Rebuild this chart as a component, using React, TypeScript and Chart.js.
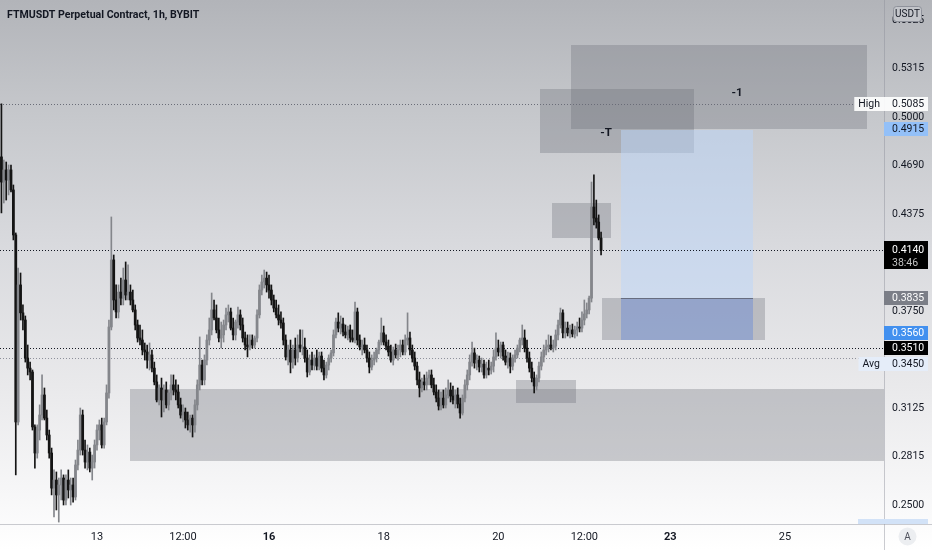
import React, { useEffect, useRef } from "react";
import { Chart, registerables } from "chart.js";

Chart.register(...registerables);

// ---------------- data ----------------
const chartTitle = "FTMUSDT Perpetual Contract, 1h, BYBIT";
// hourly candles; hour values are counted from day 11, 00:00
const firstCandleHour = 8;

const opens = [
  0.4743, 0.4581, 0.4659, 0.4594, 0.4659, 0.4530, 0.4240, 0.3035, 0.3918, 0.3738,
  0.3692, 0.3447, 0.3382, 0.3357, 0.3003, 0.2835, 0.2983, 0.3080, 0.3209, 0.3060,
  0.2951, 0.2835, 0.2609, 0.2661, 0.2565, 0.2629, 0.2674, 0.2532, 0.2661, 0.2597,
  0.2629, 0.2552, 0.2758, 0.2854, 0.3080, 0.2854, 0.2777, 0.2841, 0.2738, 0.2777,
  0.2887, 0.2983, 0.3016, 0.2887, 0.3035, 0.3222, 0.3647, 0.4079, 0.3821, 0.3744,
  0.3872, 0.3833, 0.3950, 0.3853, 0.3872, 0.3821, 0.3757, 0.3660, 0.3576, 0.3563,
  0.3499, 0.3486, 0.3434, 0.3467, 0.3382, 0.3293, 0.3177, 0.3254, 0.3177, 0.3241,
  0.3145, 0.3222, 0.3274, 0.3241, 0.3228, 0.3145, 0.3080, 0.3099, 0.3048, 0.3016,
  0.3060, 0.3016, 0.3145, 0.3274, 0.3402, 0.3306, 0.3434, 0.3563, 0.3628, 0.3757,
  0.3705, 0.3628, 0.3576, 0.3596, 0.3660, 0.3725, 0.3744, 0.3640, 0.3596, 0.3679,
  0.3725, 0.3660, 0.3576, 0.3531, 0.3518, 0.3563, 0.3531, 0.3576, 0.3725, 0.3885,
  0.3937, 0.3962, 0.3918, 0.3885, 0.3821, 0.3769, 0.3725, 0.3692, 0.3673, 0.3563,
  0.3454, 0.3499, 0.3421, 0.3499, 0.3447, 0.3531, 0.3511, 0.3518, 0.3447, 0.3357,
  0.3434, 0.3402, 0.3447, 0.3395, 0.3460, 0.3382, 0.3338, 0.3402, 0.3447, 0.3480,
  0.3596, 0.3679, 0.3640, 0.3666, 0.3615, 0.3596, 0.3628, 0.3576, 0.3563, 0.3744,
  0.3563, 0.3518, 0.3531, 0.3499, 0.3447, 0.3389, 0.3434, 0.3447, 0.3499, 0.3550,
  0.3609, 0.3550, 0.3524, 0.3486, 0.3434, 0.3499, 0.3467, 0.3499, 0.3531, 0.3486,
  0.3563, 0.3576, 0.3499, 0.3447, 0.3395, 0.3306, 0.3254, 0.3293, 0.3274, 0.3318,
  0.3338, 0.3274, 0.3228, 0.3189, 0.3138, 0.3189, 0.3145, 0.3209, 0.3241, 0.3202,
  0.3177, 0.3209, 0.3151, 0.3093, 0.3189, 0.3274, 0.3338, 0.3421, 0.3480, 0.3415,
  0.3434, 0.3389, 0.3408, 0.3338, 0.3382, 0.3370, 0.3395, 0.3454, 0.3511, 0.3486,
  0.3531, 0.3460, 0.3421, 0.3447, 0.3395, 0.3447, 0.3467, 0.3511, 0.3563, 0.3576,
  0.3511, 0.3447, 0.3382, 0.3318, 0.3267, 0.3318, 0.3395, 0.3454, 0.3499, 0.3518,
  0.3531, 0.3511, 0.3524, 0.3596, 0.3660, 0.3738, 0.3609, 0.3640, 0.3609, 0.3628,
  0.3602, 0.3628, 0.3647, 0.3640, 0.3692, 0.3731, 0.3757, 0.3833, 0.4420, 0.4349,
  0.4323, 0.4220,
];

const highs = [
  0.5085, 0.4723, 0.4710, 0.4691, 0.4691, 0.4562, 0.4253, 0.4027, 0.3995, 0.3789,
  0.3718, 0.3531, 0.3421, 0.3370, 0.3016, 0.3016, 0.3145, 0.3338, 0.3254, 0.3112,
  0.2983, 0.2867, 0.2726, 0.2713, 0.2674, 0.2726, 0.2694, 0.2694, 0.2726, 0.2674,
  0.2674, 0.2790, 0.2919, 0.3125, 0.3112, 0.2919, 0.2887, 0.2867, 0.2822, 0.2919,
  0.3016, 0.3048, 0.3060, 0.3060, 0.3274, 0.3692, 0.4356, 0.4111, 0.3918, 0.3918,
  0.3962, 0.4027, 0.4066, 0.4047, 0.3918, 0.3885, 0.3789, 0.3692, 0.3660, 0.3628,
  0.3544, 0.3531, 0.3544, 0.3499, 0.3421, 0.3338, 0.3274, 0.3318, 0.3274, 0.3293,
  0.3241, 0.3338, 0.3338, 0.3306, 0.3274, 0.3189, 0.3145, 0.3125, 0.3099, 0.3080,
  0.3080, 0.3177, 0.3306, 0.3583, 0.3434, 0.3467, 0.3596, 0.3705, 0.3866, 0.3821,
  0.3789, 0.3705, 0.3679, 0.3692, 0.3769, 0.3789, 0.3769, 0.3705, 0.3692, 0.3776,
  0.3757, 0.3705, 0.3615, 0.3596, 0.3596, 0.3596, 0.3589, 0.3757, 0.3918, 0.3982,
  0.4014, 0.4001, 0.3982, 0.3918, 0.3853, 0.3821, 0.3789, 0.3744, 0.3705, 0.3596,
  0.3531, 0.3563, 0.3531, 0.3576, 0.3596, 0.3628, 0.3628, 0.3576, 0.3499, 0.3467,
  0.3486, 0.3467, 0.3499, 0.3486, 0.3486, 0.3434, 0.3421, 0.3467, 0.3499, 0.3628,
  0.3705, 0.3738, 0.3718, 0.3705, 0.3660, 0.3653, 0.3660, 0.3628, 0.3808, 0.3769,
  0.3596, 0.3563, 0.3576, 0.3531, 0.3486, 0.3467, 0.3486, 0.3511, 0.3563, 0.3705,
  0.3653, 0.3596, 0.3563, 0.3531, 0.3518, 0.3537, 0.3531, 0.3563, 0.3563, 0.3596,
  0.3738, 0.3615, 0.3531, 0.3486, 0.3421, 0.3357, 0.3318, 0.3338, 0.3357, 0.3370,
  0.3370, 0.3318, 0.3274, 0.3241, 0.3228, 0.3241, 0.3254, 0.3306, 0.3287, 0.3267,
  0.3241, 0.3254, 0.3189, 0.3209, 0.3306, 0.3370, 0.3467, 0.3550, 0.3511, 0.3467,
  0.3460, 0.3447, 0.3434, 0.3421, 0.3434, 0.3421, 0.3499, 0.3609, 0.3563, 0.3550,
  0.3550, 0.3499, 0.3486, 0.3480, 0.3467, 0.3499, 0.3531, 0.3576, 0.3660, 0.3628,
  0.3563, 0.3486, 0.3421, 0.3357, 0.3338, 0.3421, 0.3486, 0.3531, 0.3563, 0.3596,
  0.3589, 0.3563, 0.3628, 0.3692, 0.3769, 0.3757, 0.3679, 0.3679, 0.3660, 0.3666,
  0.3653, 0.3679, 0.3705, 0.3744, 0.3821, 0.3802, 0.3846, 0.4581, 0.4627, 0.4465,
  0.4369, 0.4259,
];

const lows = [
  0.4382, 0.4446, 0.4465, 0.4498, 0.4517, 0.4208, 0.2694, 0.3016, 0.3692, 0.3628,
  0.3421, 0.3338, 0.3306, 0.2983, 0.2738, 0.2802, 0.2919, 0.3048, 0.3048, 0.2919,
  0.2802, 0.2565, 0.2423, 0.2468, 0.2390, 0.2532, 0.2500, 0.2500, 0.2545, 0.2500,
  0.2519, 0.2532, 0.2726, 0.2822, 0.2822, 0.2738, 0.2726, 0.2713, 0.2661, 0.2738,
  0.2854, 0.2919, 0.2867, 0.2867, 0.3016, 0.3189, 0.3628, 0.3757, 0.3705, 0.3705,
  0.3789, 0.3789, 0.3821, 0.3821, 0.3789, 0.3744, 0.3628, 0.3550, 0.3531, 0.3467,
  0.3434, 0.3382, 0.3370, 0.3357, 0.3274, 0.3164, 0.3145, 0.3067, 0.3099, 0.3125,
  0.3112, 0.3177, 0.3209, 0.3177, 0.3125, 0.3060, 0.3035, 0.2996, 0.2983, 0.2970,
  0.2938, 0.2970, 0.3112, 0.3241, 0.3274, 0.3274, 0.3402, 0.3531, 0.3596, 0.3692,
  0.3609, 0.3550, 0.3511, 0.3550, 0.3628, 0.3679, 0.3628, 0.3563, 0.3563, 0.3640,
  0.3628, 0.3550, 0.3499, 0.3454, 0.3499, 0.3511, 0.3511, 0.3550, 0.3705, 0.3853,
  0.3898, 0.3872, 0.3833, 0.3789, 0.3744, 0.3705, 0.3660, 0.3640, 0.3531, 0.3434,
  0.3402, 0.3351, 0.3382, 0.3402, 0.3421, 0.3486, 0.3467, 0.3421, 0.3325, 0.3338,
  0.3370, 0.3370, 0.3370, 0.3370, 0.3357, 0.3306, 0.3318, 0.3370, 0.3421, 0.3460,
  0.3576, 0.3615, 0.3602, 0.3589, 0.3576, 0.3563, 0.3550, 0.3550, 0.3544, 0.3531,
  0.3499, 0.3467, 0.3480, 0.3421, 0.3351, 0.3370, 0.3402, 0.3421, 0.3473, 0.3531,
  0.3531, 0.3499, 0.3460, 0.3421, 0.3402, 0.3447, 0.3434, 0.3454, 0.3467, 0.3467,
  0.3531, 0.3467, 0.3421, 0.3370, 0.3274, 0.3196, 0.3228, 0.3241, 0.3241, 0.3274,
  0.3254, 0.3209, 0.3164, 0.3112, 0.3112, 0.3125, 0.3125, 0.3189, 0.3164, 0.3151,
  0.3125, 0.3125, 0.3060, 0.3080, 0.3164, 0.3241, 0.3306, 0.3395, 0.3382, 0.3370,
  0.3357, 0.3357, 0.3318, 0.3318, 0.3338, 0.3344, 0.3357, 0.3434, 0.3460, 0.3447,
  0.3434, 0.3402, 0.3382, 0.3351, 0.3370, 0.3421, 0.3447, 0.3486, 0.3531, 0.3486,
  0.3421, 0.3357, 0.3293, 0.3222, 0.3241, 0.3293, 0.3370, 0.3421, 0.3467, 0.3486,
  0.3499, 0.3486, 0.3499, 0.3563, 0.3640, 0.3576, 0.3576, 0.3589, 0.3576, 0.3583,
  0.3576, 0.3589, 0.3615, 0.3615, 0.3660, 0.3705, 0.3731, 0.3808, 0.4304, 0.4284,
  0.4208, 0.4111,
];

const closes = [
  0.4581, 0.4659, 0.4594, 0.4659, 0.4530, 0.4240, 0.3035, 0.3918, 0.3738, 0.3692,
  0.3447, 0.3382, 0.3357, 0.3003, 0.2835, 0.2983, 0.3080, 0.3209, 0.3060, 0.2951,
  0.2835, 0.2609, 0.2661, 0.2565, 0.2629, 0.2674, 0.2532, 0.2661, 0.2597, 0.2629,
  0.2552, 0.2758, 0.2854, 0.3080, 0.2854, 0.2777, 0.2841, 0.2738, 0.2777, 0.2887,
  0.2983, 0.3016, 0.2887, 0.3035, 0.3222, 0.3647, 0.4079, 0.3821, 0.3744, 0.3872,
  0.3833, 0.3950, 0.3853, 0.3872, 0.3821, 0.3757, 0.3660, 0.3576, 0.3563, 0.3499,
  0.3486, 0.3434, 0.3467, 0.3382, 0.3293, 0.3177, 0.3254, 0.3177, 0.3241, 0.3145,
  0.3222, 0.3274, 0.3241, 0.3228, 0.3145, 0.3080, 0.3099, 0.3048, 0.3016, 0.3060,
  0.3016, 0.3145, 0.3274, 0.3402, 0.3306, 0.3434, 0.3563, 0.3628, 0.3757, 0.3705,
  0.3628, 0.3576, 0.3596, 0.3660, 0.3725, 0.3744, 0.3640, 0.3596, 0.3679, 0.3725,
  0.3660, 0.3576, 0.3531, 0.3518, 0.3563, 0.3531, 0.3576, 0.3725, 0.3885, 0.3937,
  0.3962, 0.3918, 0.3885, 0.3821, 0.3769, 0.3725, 0.3692, 0.3673, 0.3563, 0.3454,
  0.3499, 0.3421, 0.3499, 0.3447, 0.3531, 0.3511, 0.3518, 0.3447, 0.3357, 0.3434,
  0.3402, 0.3447, 0.3395, 0.3460, 0.3382, 0.3338, 0.3402, 0.3447, 0.3480, 0.3596,
  0.3679, 0.3640, 0.3666, 0.3615, 0.3596, 0.3628, 0.3576, 0.3563, 0.3744, 0.3563,
  0.3518, 0.3531, 0.3499, 0.3447, 0.3389, 0.3434, 0.3447, 0.3499, 0.3550, 0.3609,
  0.3550, 0.3524, 0.3486, 0.3434, 0.3499, 0.3467, 0.3499, 0.3531, 0.3486, 0.3563,
  0.3576, 0.3499, 0.3447, 0.3395, 0.3306, 0.3254, 0.3293, 0.3274, 0.3318, 0.3338,
  0.3274, 0.3228, 0.3189, 0.3138, 0.3189, 0.3145, 0.3209, 0.3241, 0.3202, 0.3177,
  0.3209, 0.3151, 0.3093, 0.3189, 0.3274, 0.3338, 0.3421, 0.3480, 0.3415, 0.3434,
  0.3389, 0.3408, 0.3338, 0.3382, 0.3370, 0.3395, 0.3454, 0.3511, 0.3486, 0.3531,
  0.3460, 0.3421, 0.3447, 0.3395, 0.3447, 0.3467, 0.3511, 0.3563, 0.3576, 0.3511,
  0.3447, 0.3382, 0.3318, 0.3267, 0.3318, 0.3395, 0.3454, 0.3499, 0.3518, 0.3531,
  0.3511, 0.3524, 0.3596, 0.3660, 0.3738, 0.3609, 0.3640, 0.3609, 0.3628, 0.3602,
  0.3628, 0.3647, 0.3640, 0.3692, 0.3731, 0.3757, 0.3833, 0.4420, 0.4349, 0.4323,
  0.4220, 0.4140,
];

// axis ticks
const xTickHours = [48, 84, 120, 168, 216, 252, 288, 336];
const xTickLabels = ["13", "12:00", "16", "18", "20", "12:00", "23", "25"];
const xBoldLabels = ["16", "23"];
const yTickValues = [0.25, 0.2815, 0.3125, 0.375, 0.4375, 0.469, 0.5, 0.5315, 0.5625];

// drawn zones (hours / prices)
const zoneStartHours = [246.4, 233.4, 238.5, 259.4, 267.3, 267.3, 223.4, 61.8];
const zoneEndHours = [370.5, 297.9, 263.2, 327.6, 322.6, 322.6, 248.5, 378];
const zoneTopPrices = [0.5464, 0.5181, 0.4446, 0.3835, 0.4915, 0.3835, 0.3306, 0.3248];
const zoneBottomPrices = [0.4920, 0.4768, 0.4221, 0.3560, 0.3835, 0.3560, 0.3158, 0.2784];
const zoneKinds = ["grey", "grey", "grey", "grey", "target", "stop", "grey", "grey"];
const positionEntryPrice = 0.3835;

const markerTexts = ["-1", "-T"];
const markerHours = [315.9, 261.1];
const markerPrices = [0.5155, 0.4897];

// horizontal levels
const levelPrices = [0.5085, 0.414, 0.351, 0.345];
const levelNames = ["High", "Last", "Mark", "Avg"];

// price tags on the right axis
const tagPrices = [0.5085, 0.4915, 0.414, 0.3835, 0.356, 0.351, 0.345];
const tagTexts = ["0.5085", "0.4915", "0.4140", "0.3835", "0.3560", "0.3510", "0.3450"];
const tagSideLabels = ["High", "", "", "", "", "", "Avg"];
const countdownText = "38:46";
const currencyLabel = "USDT";
const scaleModeLabel = "A";

// visible range
const xMinHour = 7.4;
const xMaxHour = 377.43;
const yMinPrice = 0.23776;
const yMaxPrice = 0.57539;

// ---------------- styles ----------------
const FONT = "Roboto, 'Liberation Sans', sans-serif";
const UP = "#84868b";
const DOWN = "#141414";
const zoneFill: Record<string, string> = {
  grey: "rgba(105,108,118,0.32)",
  target: "rgba(188,214,250,0.5)",
  stop: "rgba(105,138,215,0.45)",
};
const levelStyles = [
  { color: "#6a6d78", toLabel: true },
  { color: "#131722", toLabel: false },
  { color: "#131722", toLabel: false },
  { color: "#8d909a", toLabel: true },
];
const tagStyles = [
  { bg: "rgba(255,255,255,0.9)", fg: "#131722", shift: 0, sideBg: "rgba(255,255,255,0.9)" },
  { bg: "#93c0f8", fg: "#131722", shift: -1, sideBg: "" },
  { bg: "#000000", fg: "#ffffff", shift: 0, sideBg: "" },
  { bg: "#7b7e87", fg: "#ffffff", shift: 0, sideBg: "" },
  { bg: "#4290ef", fg: "#ffffff", shift: -7, sideBg: "" },
  { bg: "#000000", fg: "#ffffff", shift: 0, sideBg: "" },
  { bg: "#e5edf9", fg: "#131722", shift: 6, sideBg: "#e5edf9" },
];

const bgPlugin = {
  id: "tvBackground",
  beforeDraw(chart: any) {
    const { ctx, width, height } = chart;
    ctx.save();
    const g = ctx.createLinearGradient(0, 0, 0, height);
    g.addColorStop(0, "#b2b4b9");
    g.addColorStop(0.2, "#c5c7cb");
    g.addColorStop(0.45, "#d9dade");
    g.addColorStop(0.7, "#e9e9eb");
    g.addColorStop(0.9, "#f7f7f8");
    g.addColorStop(1, "#ffffff");
    ctx.fillStyle = g;
    ctx.fillRect(0, 0, width, height);
    ctx.restore();
  },
};

const drawingsPlugin = {
  id: "tvDrawings",
  beforeDatasetsDraw(chart: any) {
    const { ctx, chartArea: a } = chart;
    const xs = chart.scales.x;
    const ys = chart.scales.y;
    ctx.save();
    ctx.beginPath();
    ctx.rect(a.left, a.top, a.right - a.left, a.bottom - a.top);
    ctx.clip();

    zoneStartHours.forEach((h0, i) => {
      const x0 = Math.round(xs.getPixelForValue(h0));
      const x1 = Math.round(xs.getPixelForValue(zoneEndHours[i]));
      const y0 = Math.round(ys.getPixelForValue(zoneTopPrices[i]));
      const y1 = Math.round(ys.getPixelForValue(zoneBottomPrices[i]));
      ctx.fillStyle = zoneFill[zoneKinds[i]];
      ctx.fillRect(x0, y0, x1 - x0, y1 - y0);
    });

    // entry line of the position
    const ti = zoneKinds.indexOf("target");
    const ex0 = xs.getPixelForValue(zoneStartHours[ti]);
    const ex1 = xs.getPixelForValue(zoneEndHours[ti]);
    const ey = Math.round(ys.getPixelForValue(positionEntryPrice)) + 0.5;
    ctx.strokeStyle = "rgba(95,100,115,0.85)";
    ctx.lineWidth = 1;
    ctx.beginPath();
    ctx.moveTo(ex0, ey);
    ctx.lineTo(ex1, ey);
    ctx.stroke();

    // dotted levels
    ctx.font = `10.5px ${FONT}`;
    levelPrices.forEach((p, i) => {
      const st = levelStyles[i];
      const y = Math.round(ys.getPixelForValue(p)) + 0.5;
      let xEnd = a.right;
      if (st.toLabel) {
        const ti2 = tagSideLabels.indexOf(levelNames[i]);
        if (ti2 >= 0) xEnd = a.right - (ctx.measureText(tagSideLabels[ti2]).width + 8);
      }
      ctx.strokeStyle = st.color;
      ctx.setLineDash([1, 2]);
      ctx.beginPath();
      ctx.moveTo(a.left, y);
      ctx.lineTo(xEnd, y);
      ctx.stroke();
    });
    ctx.setLineDash([]);

    // text markers
    ctx.fillStyle = "#131722";
    ctx.font = `bold 11.5px ${FONT}`;
    ctx.textAlign = "center";
    ctx.textBaseline = "middle";
    markerTexts.forEach((t, i) => {
      ctx.fillText(t, xs.getPixelForValue(markerHours[i]), ys.getPixelForValue(markerPrices[i]));
    });
    ctx.restore();
  },
};

const overlayPlugin = {
  id: "tvOverlay",
  afterDraw(chart: any) {
    const { ctx, chartArea: a, width, height } = chart;
    const ys = chart.scales.y;
    ctx.save();
    // separators
    ctx.strokeStyle = "rgba(140,143,152,0.45)";
    ctx.lineWidth = 1;
    ctx.beginPath();
    ctx.moveTo(Math.round(a.right) + 0.5, 0);
    ctx.lineTo(Math.round(a.right) + 0.5, height);
    ctx.moveTo(0, Math.round(a.bottom) + 0.5);
    ctx.lineTo(width, Math.round(a.bottom) + 0.5);
    ctx.stroke();

    // title
    ctx.fillStyle = "#131722";
    ctx.font = `bold 10.6px ${FONT}`;
    ctx.textAlign = "left";
    ctx.textBaseline = "middle";
    ctx.fillText(chartTitle, 7, 15);

    // partial low tag at the bottom
    ctx.fillStyle = "#d2e2f7";
    ctx.fillRect(a.right - 26, a.bottom - 5, 70, 5);

    // price tags
    const axL = Math.round(a.right);
    ctx.font = `10.5px ${FONT}`;
    tagPrices.forEach((p, i) => {
      const st = tagStyles[i];
      const cy = Math.round(ys.getPixelForValue(p)) + st.shift;
      const isCountdown = i === 2;
      const top = isCountdown ? cy - 9 : cy - 7;
      const h = isCountdown ? 28 : 14;
      ctx.fillStyle = st.bg;
      ctx.fillRect(axL, top, 44, h);
      ctx.fillStyle = st.fg;
      ctx.textAlign = "left";
      ctx.fillText(tagTexts[i], axL + 8, cy + 0.5);
      if (isCountdown) {
        ctx.fillStyle = "#c3c3c3";
        ctx.fillText(countdownText, axL + 8, cy + 13.5);
      }
      if (tagSideLabels[i]) {
        const w = ctx.measureText(tagSideLabels[i]).width + 8;
        ctx.fillStyle = st.sideBg;
        ctx.fillRect(axL - w, top, w, h);
        ctx.fillStyle = "#131722";
        ctx.fillText(tagSideLabels[i], axL - w + 4, cy + 0.5);
      }
    });

    // currency box
    const bx = axL + 9;
    ctx.fillStyle = "#c3c5ca";
    ctx.strokeStyle = "#8f929b";
    ctx.beginPath();
    (ctx as any).roundRect(bx + 0.5, 6.5, 28, 15, 3);
    ctx.fill();
    ctx.stroke();
    ctx.fillStyle = "#131722";
    ctx.textAlign = "center";
    ctx.font = `10px ${FONT}`;
    ctx.fillText(currencyLabel, bx + 14.5, 14.5);

    // auto scale button
    ctx.fillStyle = "#eceef1";
    ctx.beginPath();
    ctx.arc(axL + 23.5, a.bottom + 12.5, 9, 0, Math.PI * 2);
    ctx.fill();
    ctx.fillStyle = "#50535e";
    ctx.font = `10px ${FONT}`;
    ctx.fillText(scaleModeLabel, axL + 23.5, a.bottom + 13);
    ctx.restore();
  },
};

export default function App() {
  const canvasRef = useRef<HTMLCanvasElement | null>(null);

  useEffect(() => {
    const canvas = canvasRef.current;
    if (!canvas) return;
    const colors = closes.map((c, i) => (c >= opens[i] ? UP : DOWN));
    const bodies = opens.map((o, i) => ({ x: firstCandleHour + i, y: [o, closes[i]] }));
    const wicks = lows.map((l, i) => ({ x: firstCandleHour + i, y: [l, highs[i]] }));

    const chart = new Chart(canvas, {
      type: "bar",
      data: {
        datasets: [
          {
            label: "body",
            data: bodies as any,
            backgroundColor: colors,
            borderWidth: 0,
            barThickness: 2.1,
            grouped: false,
          } as any,
          {
            label: "wick",
            data: wicks as any,
            backgroundColor: colors,
            borderWidth: 0,
            barThickness: 1,
            grouped: false,
          } as any,
        ],
      },
      options: {
        responsive: false,
        maintainAspectRatio: false,
        animation: false,
        devicePixelRatio: 1,
        layout: { padding: 0 },
        plugins: {
          legend: { display: false },
          tooltip: { enabled: false },
          title: { display: false },
        },
        scales: {
          x: {
            type: "linear",
            min: xMinHour,
            max: xMaxHour,
            offset: false,
            grid: { display: false, drawTicks: false, offset: false },
            border: { display: false },
            ticks: {
              autoSkip: false,
              maxRotation: 0,
              padding: 7,
              color: "#131722",
              font: (c: any) => ({
                family: FONT,
                size: 11,
                weight: xBoldLabels.includes(xTickLabels[xTickHours.indexOf(c.tick?.value)]) ? "bold" : "normal",
              }),
              callback: (v: any) => {
                const k = xTickHours.indexOf(Number(v));
                return k >= 0 ? xTickLabels[k] : "";
              },
            },
            afterBuildTicks: (s: any) => {
              s.ticks = xTickHours.map((v) => ({ value: v }));
            },
            afterFit: (s: any) => {
              s.height = 26;
              s.paddingLeft = 0;
              s.paddingRight = 0;
            },
          } as any,
          y: {
            type: "linear",
            position: "right",
            min: yMinPrice,
            max: yMaxPrice,
            grid: { display: false, drawTicks: false },
            border: { display: false },
            ticks: {
              autoSkip: false,
              padding: 8,
              color: "#131722",
              font: { family: FONT, size: 10.5 },
              callback: (v: any) => Number(v).toFixed(4),
            },
            afterBuildTicks: (s: any) => {
              s.ticks = yTickValues.map((v) => ({ value: v }));
            },
            afterFit: (s: any) => {
              s.width = 48;
              s.paddingTop = 0;
              s.paddingBottom = 0;
            },
          } as any,
        },
      },
      plugins: [bgPlugin, drawingsPlugin, overlayPlugin],
    });
    return () => chart.destroy();
  }, []);

  return (
    <div style={{ position: "absolute", left: 0, top: 0, width: 932, height: 550 }}>
      <canvas ref={canvasRef} width={932} height={550} style={{ display: "block" }} />
    </div>
  );
}
